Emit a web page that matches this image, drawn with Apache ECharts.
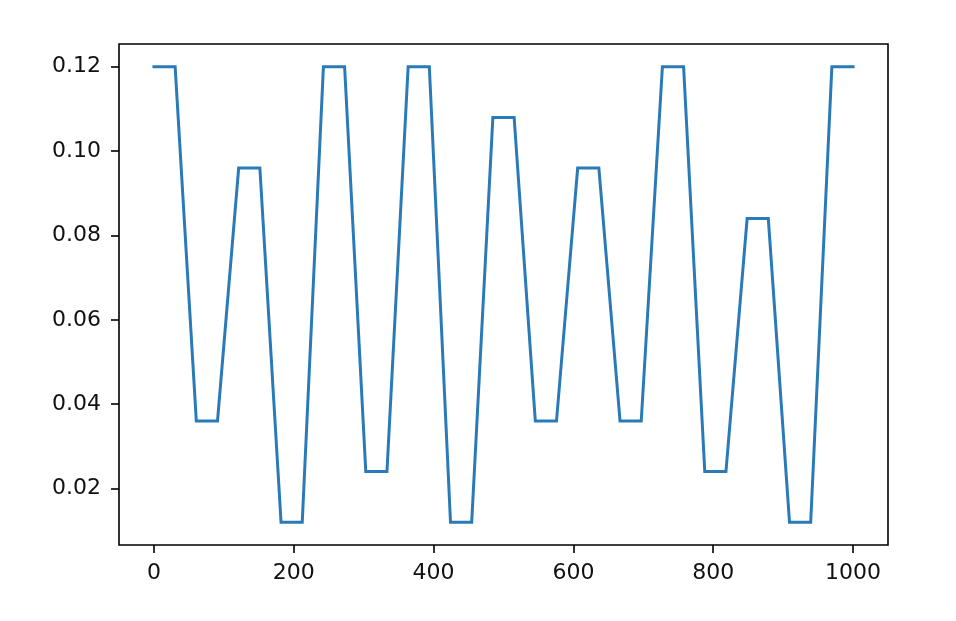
<!DOCTYPE html>
<html>
<head>
<meta charset="utf-8">
<script src="https://cdn.jsdelivr.net/npm/echarts@6/dist/echarts.min.js"></script>
<style>
html,body{margin:0;padding:0;background:#fff;}
#chart{width:956px;height:621px;}
</style>
</head>
<body>
<div id="chart"></div>
<script>
// Breakpoints of the piecewise-linear curve (x positions)
var xValues = [0, 30.3, 60.6, 90.9, 121.2, 151.5, 181.8, 212.1, 242.4, 272.7,
  303.0, 333.3, 363.6, 393.9, 424.2, 454.5, 484.8, 515.2, 545.5, 575.8,
  606.1, 636.4, 666.7, 697.0, 727.3, 757.6, 787.9, 818.2, 848.5, 878.8,
  909.1, 939.4, 969.7, 1000];
// Curve values at those breakpoints
var yValues = [0.12, 0.12, 0.036, 0.036, 0.096, 0.096, 0.012, 0.012, 0.12, 0.12,
  0.024, 0.024, 0.12, 0.12, 0.012, 0.012, 0.108, 0.108, 0.036, 0.036,
  0.096, 0.096, 0.036, 0.036, 0.12, 0.12, 0.024, 0.024, 0.084, 0.084,
  0.012, 0.012, 0.12, 0.12];
var xTicks = [0, 200, 400, 600, 800, 1000];
var yTicks = [0.02, 0.04, 0.06, 0.08, 0.10, 0.12];

var points = xValues.map(function (x, i) { return [x, yValues[i]]; });

var chart = echarts.init(document.getElementById('chart'), null, {renderer: 'canvas'});
var font = 'DejaVu Sans';
chart.setOption({
  animation: false,
  backgroundColor: '#fff',
  grid: {
    left: 119, right: 68, top: 44, bottom: 76,
    show: true, borderColor: '#000', borderWidth: 1.6, backgroundColor: 'transparent'
  },
  xAxis: {
    type: 'value', min: -50, max: 1050,
    axisLine: {show: false, onZero: false},
    splitLine: {show: false},
    axisTick: {show: true, length: 8, lineStyle: {color: '#000', width: 1.6}, customValues: xTicks},
    axisLabel: {
      customValues: xTicks, margin: 17, color: '#111',
      fontFamily: font, fontSize: 22,
      formatter: function (v) { return String(v); }
    }
  },
  yAxis: {
    type: 'value', min: 0.0066, max: 0.1254,
    axisLine: {show: false, onZero: false},
    splitLine: {show: false},
    axisTick: {show: true, length: 8, lineStyle: {color: '#000', width: 1.6}, customValues: yTicks},
    axisLabel: {
      customValues: yTicks, margin: 18, color: '#111',
      fontFamily: font, fontSize: 22, padding: [5, 0, 0, 0],
      formatter: function (v) { return v.toFixed(2); }
    }
  },
  series: [{
    type: 'line',
    data: points,
    showSymbol: false,
    lineStyle: {color: '#2a7ab8', width: 3, join: 'miter', cap: 'square'},
    itemStyle: {color: '#2a7ab8'}
  }]
});
</script>
</body>
</html>
